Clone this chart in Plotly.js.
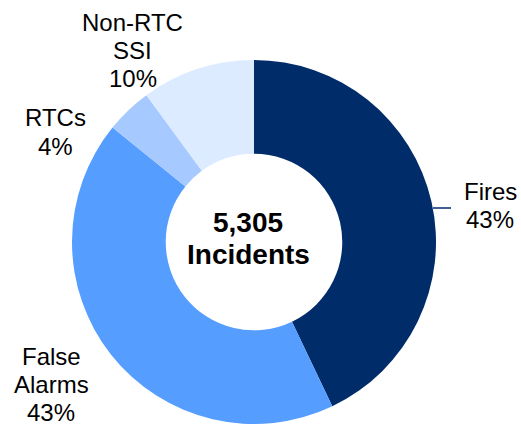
<!DOCTYPE html>
<html>
<head>
<meta charset="utf-8">
<script src="https://cdn.plot.ly/plotly-3.0.1.min.js"></script>
<style>html,body{margin:0;padding:0;background:#fff;}#chart{width:521px;height:427px;}</style>
</head>
<body>
<div id="chart"></div>
<script>
// Data
const categories = ["Fires", "False Alarms", "RTCs", "Non-RTC SSI"];
const labelLines = [["Fires"], ["False", "Alarms"], ["RTCs"], ["Non-RTC", "SSI"]];
const values = [2277, 2276, 218, 534];
const colors = ["#002d6a", "#559dff", "#a6caff", "#dcebff"];
const totalLabel = "5,305";
const centerCaption = "Incidents";

const W = 521, H = 427;
const cx = 254, cy = 242, r = 182;
const total = values.reduce((a, b) => a + b, 0);
const pct = values.map(v => Math.round(v / total * 100) + "%");

// first-line center (pixels) of each label block, and line step
const labelPos = [[490, 191], [51, 356], [55, 118], [132.5, 22]];
const lineStep = 28.3;

const px = x => x / W;
const py = y => 1 - y / H;
const labelFont = {family: "Liberation Sans, Arial, sans-serif", size: 24, color: "#000"};

const annotations = [];
categories.forEach((c, i) => {
  const lines = labelLines[i].concat([pct[i]]);
  lines.forEach((t, j) => {
    annotations.push({
      text: t, xref: "paper", yref: "paper",
      x: px(labelPos[i][0]), y: py(labelPos[i][1] + j * lineStep),
      xanchor: "center", yanchor: "middle", showarrow: false,
      borderpad: 0,
      font: labelFont
    });
  });
});
annotations.push({
  text: "<b>" + totalLabel + "</b>", xref: "paper", yref: "paper",
  x: px(248), y: py(222), xanchor: "center", yanchor: "middle", showarrow: false,
  font: {family: "Liberation Sans, Arial, sans-serif", size: 28, color: "#000"}
});
annotations.push({
  text: "<b>" + centerCaption + "</b>", xref: "paper", yref: "paper",
  x: px(248), y: py(254), xanchor: "center", yanchor: "middle", showarrow: false,
  font: {family: "Liberation Sans, Arial, sans-serif", size: 28, color: "#000"}
});

const trace = {
  type: "pie",
  labels: categories,
  values: values,
  sort: false,
  direction: "clockwise",
  rotation: 0,
  hole: 0.485,
  textinfo: "none",
  hoverinfo: "label+percent",
  marker: {colors: colors, line: {width: 0}},
  domain: {x: [px(cx - r), px(cx + r)], y: [py(cy + r), py(cy - r)]},
  showlegend: false
};

const layout = {
  width: W, height: H,
  margin: {l: 0, r: 0, t: 0, b: 0},
  paper_bgcolor: "#fff",
  annotations: annotations,
  shapes: [{
    type: "line", xref: "paper", yref: "paper",
    x0: px(433), x1: px(451), y0: py(208), y1: py(208),
    line: {color: "#002d6a", width: 1.5}
  }]
};

Plotly.newPlot("chart", [trace], layout, {displayModeBar: false, staticPlot: true});
</script>
</body>
</html>
